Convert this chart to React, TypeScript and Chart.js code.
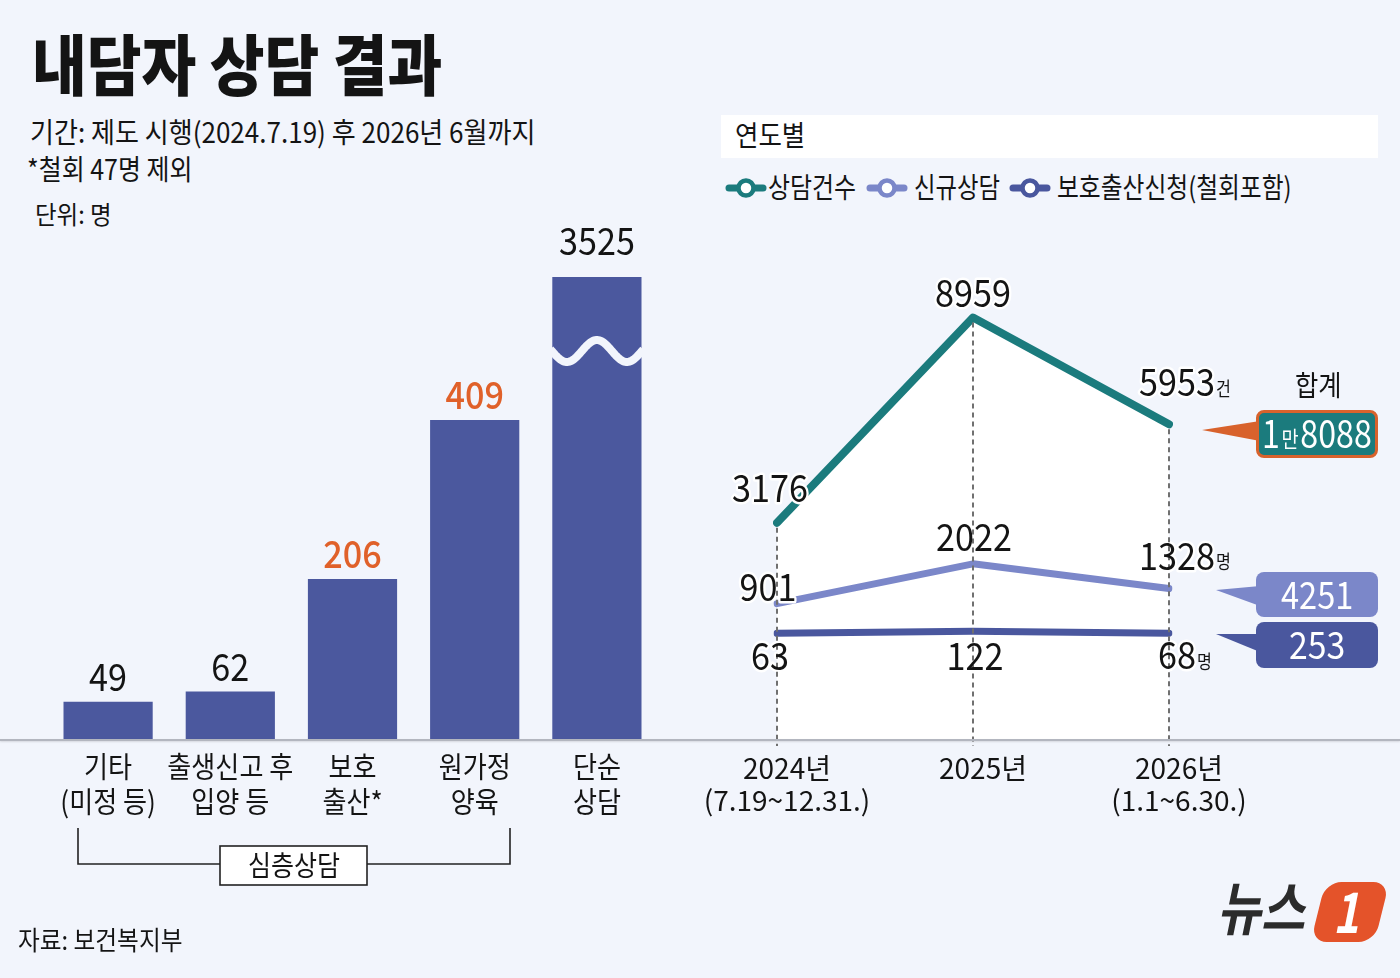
import React, { useEffect, useLayoutEffect, useRef, useState } from 'react';
import { Chart, registerables } from 'chart.js';

Chart.register(...registerables);

const FONT = '"Noto Sans CJK KR", "Noto Sans", sans-serif';

// 상담 유형별 인원 (명)
const typeLabels = [['기타', '(미정 등)'], ['출생신고 후', '입양 등'], ['보호', '출산*'], ['원가정', '양육'], ['단순', '상담']];
const typeValues = [49, 62, 206, 409, 3525];
const typeHighlight = [false, false, true, true, false];

// 연도별 추이
const yearLabels = [['2024년', '(7.19~12.31.)'], ['2025년'], ['2026년', '(1.1~6.30.)']];
const counselCases = [3176, 8959, 5953];
const newClients = [901, 2022, 1328];
const birthRequests = [63, 122, 68];
const seriesNames = ['상담건수', '신규상담', '보호출산신청(철회포함)'];
const seriesUnits = ['건', '명', '명'];

const BG = '#f2f5fc';
const BAR = '#4b589e';
const ORANGE = '#e0612a';
const TEAL = '#1b7b7d';
const LILAC = '#7b87c9';
const NAVY = '#4a579e';
const INK = '#141414';

const sum = (a: number[]) => a.reduce((s, v) => s + v, 0);

function drawText(ctx: any, text: string, x: number, cy: number, o: any) {
  const sx = o.sx ?? 0.8;
  ctx.save();
  ctx.font = `${o.weight || 400} ${o.size}px ${FONT}`;
  ctx.textBaseline = 'alphabetic';
  ctx.textAlign = 'left';
  const w = ctx.measureText(text).width * sx;
  let left = x;
  if (o.align === 'center') left = x - w / 2;
  else if (o.align === 'right') left = x - w;
  ctx.translate(left, cy + 0.37 * o.size);
  ctx.scale(sx, 1);
  if (o.halo) {
    ctx.lineWidth = o.halo;
    ctx.strokeStyle = '#ffffff';
    ctx.lineJoin = 'round';
    ctx.strokeText(text, 0, 0);
  }
  if (!o.noFill) {
    ctx.fillStyle = o.color || INK;
    ctx.fillText(text, 0, 0);
  }
  ctx.restore();
  return w;
}

function Txt({ x, cy, w, size, weight = 400, color = INK, align = 'left', italic = false, children }: any) {
  const ref = useRef<HTMLSpanElement>(null);
  const [sx, setSx] = useState(0.8);
  useLayoutEffect(() => {
    const el = ref.current;
    if (!el) return;
    const natural = el.offsetWidth;
    if (natural > 0) setSx(w / natural);
  }, [w]);
  const left = align === 'center' ? x - w / 2 : x;
  return (
    <span
      ref={ref}
      style={{
        position: 'absolute',
        left,
        top: cy - size * 0.56,
        fontSize: size,
        lineHeight: `${size}px`,
        fontWeight: weight,
        fontStyle: italic ? 'italic' : 'normal',
        color,
        whiteSpace: 'nowrap',
        fontFamily: FONT,
        transform: `scaleX(${sx})`,
        transformOrigin: 'left center',
      }}
    >
      {children}
    </span>
  );
}

function TypeBars() {
  const ref = useRef<HTMLCanvasElement>(null);
  useEffect(() => {
    const barLabels = {
      id: 'barLabels',
      afterDatasetsDraw(chart: any) {
        const { ctx, chartArea } = chart;
        const meta = chart.getDatasetMeta(0);
        meta.data.forEach((bar: any, i: number) => {
          const broken = bar.y < chartArea.top;
          const top = broken ? chartArea.top : bar.y;
          if (broken) {
            // 축약 표시용 물결
            const half = bar.width / 2;
            const wy = chartArea.top + 74;
            ctx.save();
            ctx.strokeStyle = BG;
            ctx.lineWidth = 8;
            ctx.beginPath();
            for (let px = -half - 2; px <= half + 2; px += 1) {
              const yy = wy - 11 * Math.cos((2 * Math.PI * px) / 60);
              if (px === -half - 2) ctx.moveTo(bar.x + px, yy);
              else ctx.lineTo(bar.x + px, yy);
            }
            ctx.stroke();
            ctx.restore();
          }
          const hl = typeHighlight[i];
          drawText(ctx, String(typeValues[i]), bar.x, top - (broken ? 36 : 25), {
            size: 38,
            sx: 0.9,
            align: 'center',
            color: hl ? ORANGE : INK,
            weight: hl ? 500 : 400,
          });
          typeLabels[i].forEach((line, j) => {
            drawText(ctx, line, bar.x, chartArea.bottom + 27 + j * 35, { size: 29, sx: 0.9, align: 'center' });
          });
        });
      },
    };
    const chart = new Chart(ref.current as HTMLCanvasElement, {
      type: 'bar',
      data: {
        labels: typeLabels.map((l) => l.join(' ')),
        datasets: [
          {
            data: typeValues,
            backgroundColor: BAR,
            barPercentage: 0.73,
            categoryPercentage: 1,
            clip: 0,
          } as any,
        ],
      },
      options: {
        responsive: false,
        animation: false,
        layout: { padding: { top: 77, bottom: 90, left: 47, right: 42 } },
        scales: {
          x: { display: false },
          y: { display: false, min: 0, max: 592 },
        },
        plugins: { legend: { display: false }, tooltip: { enabled: false } },
      },
      plugins: [barLabels],
    });
    return () => chart.destroy();
  }, []);
  return <canvas ref={ref} width={700} height={630} style={{ position: 'absolute', left: 0, top: 200 }} />;
}

function YearLines() {
  const ref = useRef<HTMLCanvasElement>(null);
  useEffect(() => {
    const series = [counselCases, newClients, birthRequests];
    const offsets = [
      [[-7, -35], [0, -25], [8, -42]],
      [[-9, -17], [1, -27], [8, -33]],
      [[-7, 23], [2, 25], [8, 22]],
    ];
    const pointLabels = {
      id: 'pointLabels',
      afterDatasetsDraw(chart: any) {
        const { ctx, chartArea } = chart;
        const items: any[] = [];
        series.forEach((vals, d) => {
          const meta = chart.getDatasetMeta(d);
          meta.data.forEach((pt: any, i: number) => {
            items.push({
              text: String(vals[i]),
              x: pt.x + offsets[d][i][0],
              y: pt.y + offsets[d][i][1],
              unit: i === vals.length - 1 ? seriesUnits[d] : null,
            });
          });
        });
        const opt = { size: 38, sx: 0.9, align: 'center' };
        items.forEach((it) => drawText(ctx, it.text, it.x, it.y, { ...opt, halo: 5, noFill: true }));
        const guide = chart.getDatasetMeta(0).data;
        ctx.save();
        ctx.setLineDash([5, 4]);
        ctx.strokeStyle = '#707070';
        ctx.lineWidth = 2;
        guide.forEach((pt: any) => {
          ctx.beginPath();
          ctx.moveTo(pt.x, pt.y + 5);
          ctx.lineTo(pt.x, chartArea.bottom + 6);
          ctx.stroke();
        });
        ctx.restore();
        items.forEach((it) => {
          const w = drawText(ctx, it.text, it.x, it.y, opt);
          if (it.unit) drawText(ctx, it.unit, it.x + w / 2 + 1, it.y + 7, { size: 19, sx: 0.85 });
        });
        yearLabels.forEach((lines, i) => {
          lines.forEach((line, j) => {
            drawText(ctx, line, guide[i].x + 10, chartArea.bottom + 29 + j * 32, { size: 28, sx: 1.0, align: 'center' });
          });
        });
      },
    };
    const chart = new Chart(ref.current as HTMLCanvasElement, {
      type: 'line',
      data: {
        labels: yearLabels.map((l) => l[0]),
        datasets: [
          {
            label: seriesNames[0],
            data: counselCases,
            borderColor: TEAL,
            borderWidth: 8,
            fill: 'start',
            backgroundColor: '#ffffff',
            pointRadius: 0,
            borderCapStyle: 'round',
            borderJoinStyle: 'round',
          },
          {
            label: seriesNames[1],
            data: newClients,
            borderColor: LILAC,
            borderWidth: 7,
            fill: false,
            pointRadius: 0,
            borderCapStyle: 'round',
            borderJoinStyle: 'round',
          },
          {
            label: seriesNames[2],
            data: birthRequests,
            borderColor: NAVY,
            borderWidth: 7,
            fill: false,
            pointRadius: 0,
            borderCapStyle: 'round',
            borderJoinStyle: 'round',
          },
        ],
      },
      options: {
        responsive: false,
        animation: false,
        layout: { padding: { top: 20, bottom: 90, left: 77, right: 231 } },
        scales: {
          x: { display: false },
          y: { display: false, min: -2940, max: 10860 },
        },
        plugins: {
          legend: { display: false },
          tooltip: { enabled: false },
          filler: { drawTime: 'beforeDatasetsDraw' },
        } as any,
      },
      plugins: [pointLabels],
    });
    return () => chart.destroy();
  }, []);
  return <canvas ref={ref} width={700} height={600} style={{ position: 'absolute', left: 700, top: 230 }} />;
}

function LegendIcon({ x, color }: any) {
  return (
    <svg style={{ position: 'absolute', left: x, top: 176 }} width={42} height={24}>
      <line x1={4} y1={12} x2={38} y2={12} stroke={color} strokeWidth={7} strokeLinecap="round" />
      <circle cx={21} cy={12} r={7.5} fill="#ffffff" stroke={color} strokeWidth={4.5} />
    </svg>
  );
}

function TotalBox({ top, height, fill, border, tip, text, cy, w }: any) {
  return (
    <>
      <svg style={{ position: 'absolute', left: 1190, top: top - 10 }} width={80} height={height + 20}>
        <polygon points={`${tip[0] - 1190},${tip[1] - top + 10} 70,${tip[2] - top + 10} 70,${tip[3] - top + 10}`} fill={border || fill} />
      </svg>
      <div
        style={{
          position: 'absolute',
          left: 1256,
          top,
          width: 122,
          height,
          boxSizing: 'border-box',
          background: fill,
          border: border ? `3px solid ${border}` : 'none',
          borderRadius: 8,
        }}
      />
      <Txt x={1317} cy={cy} w={w} size={38} color="#ffffff" align="center">
        {text}
      </Txt>
    </>
  );
}

function formatTotal(t: number) {
  if (t >= 10000) {
    const man = Math.floor(t / 10000);
    const rest = String(t % 10000).padStart(4, '0');
    return (
      <>
        {man}
        <span style={{ fontSize: 22, verticalAlign: 'middle', margin: '0 2px' }}>만</span>
        {rest}
      </>
    );
  }
  return String(t);
}

export default function App() {
  return (
    <div
      style={{
        position: 'absolute',
        left: 0,
        top: 0,
        width: 1400,
        height: 978,
        background: BG,
        overflow: 'hidden',
        fontFamily: FONT,
      }}
    >
      <Txt x={32} cy={65} w={410} size={66} weight={900}>
        내담자 상담 결과
      </Txt>
      <Txt x={30} cy={133} w={505} size={28}>
        기간: 제도 시행(2024.7.19) 후 2026년 6월까지
      </Txt>
      <Txt x={27} cy={170} w={166} size={28}>
        *철회 47명 제외
      </Txt>
      <Txt x={35} cy={215} w={77} size={25}>
        단위: 명
      </Txt>

      <div style={{ position: 'absolute', left: 721, top: 115, width: 657, height: 43, background: '#ffffff' }} />
      <Txt x={735} cy={136} w={70} size={28}>
        연도별
      </Txt>
      <LegendIcon x={725} color={TEAL} />
      <Txt x={768} cy={188} w={88} size={28}>
        {seriesNames[0]}
      </Txt>
      <LegendIcon x={866} color={LILAC} />
      <Txt x={914} cy={188} w={86} size={28}>
        {seriesNames[1]}
      </Txt>
      <LegendIcon x={1009} color={NAVY} />
      <Txt x={1057} cy={188} w={235} size={28}>
        {seriesNames[2]}
      </Txt>

      <TypeBars />
      <YearLines />

      <div
        style={{
          position: 'absolute',
          left: 0,
          top: 739,
          width: 1400,
          height: 2,
          background: '#b3b6bf',
          boxShadow: '0 1px 2px rgba(0,0,0,0.12)',
        }}
      />

      <Txt x={1295} cy={386} w={47} size={28}>
        합계
      </Txt>
      <TotalBox top={410} height={48} fill={TEAL} border="#d8622c" tip={[1202, 430, 421, 441]} text={formatTotal(sum(counselCases))} cy={434} w={110} />
      <TotalBox top={572} height={45} fill={LILAC} tip={[1216, 590, 586, 606]} text={formatTotal(sum(newClients))} cy={595} w={72} />
      <TotalBox top={622} height={46} fill={NAVY} tip={[1216, 634, 634, 652]} text={formatTotal(sum(birthRequests))} cy={645} w={56} />

      <svg style={{ position: 'absolute', left: 0, top: 0 }} width={1400} height={978} pointerEvents="none">
        <polyline points="78,828 78,864 220,864" fill="none" stroke="#222" strokeWidth={1.6} />
        <polyline points="367,864 510,864 510,828" fill="none" stroke="#222" strokeWidth={1.6} />
        <rect x={220} y={846} width={147} height={39} fill="#ffffff" stroke="#222" strokeWidth={1.6} />
      </svg>
      <Txt x={294} cy={866} w={92} size={28} align="center">
        심층상담
      </Txt>

      <Txt x={18} cy={941} w={165} size={26}>
        자료: 보건복지부
      </Txt>

      <Txt x={1217} cy={908} w={88} size={58} weight={700} italic color="#2b2b2b">
        뉴스
      </Txt>
      <div
        style={{
          position: 'absolute',
          left: 1318,
          top: 882,
          width: 64,
          height: 60,
          background: '#e4532a',
          borderRadius: 16,
          transform: 'skewX(-14deg)',
        }}
      />
      <Txt x={1346} cy={912} w={26} size={56} weight={700} italic color="#ffffff" align="center">
        1
      </Txt>
    </div>
  );
}
